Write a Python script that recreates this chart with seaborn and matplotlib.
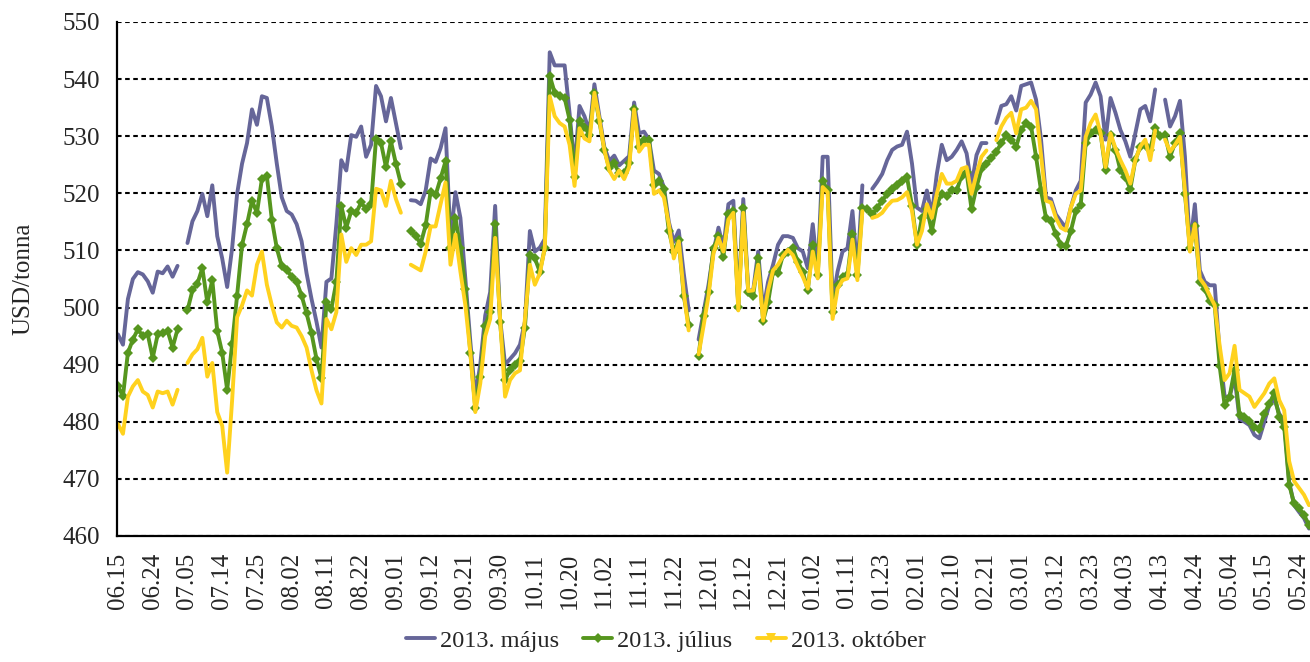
import numpy as np
import pandas as pd
import matplotlib.pyplot as plt
from matplotlib.lines import Line2D
import seaborn as sns

nan = np.nan

# tengely feliratok (minden 7. kereskedési nap)
tick_labels = ['06.15', '06.24', '07.05', '07.14', '07.25', '08.02', '08.11', '08.22', '09.01',
               '09.12', '09.21', '09.30', '10.11', '10.20', '11.02', '11.11', '11.22', '12.01',
               '12.12', '12.21', '01.02', '01.11', '01.23', '02.01', '02.10', '02.21', '03.01',
               '03.12', '03.23', '04.03', '04.13', '04.24', '05.04', '05.15', '05.24']

majus = [
    495.3, 493.5, 501.5, 505.0, 506.2, 505.8, 504.6, 502.6, 506.3, 506.0,
    507.2, 505.4, 507.3, nan, 511.3, 515.1, 516.9, 519.9, 516.0, 521.4,
    512.5, 508.6, 503.6, 510.4, 519.9, 525.2, 528.8, 534.7, 532.0, 537.0,
    536.7, 531.7, 525.2, 519.3, 516.9, 516.3, 514.6, 511.6, 506.0, 501.5,
    497.5, 493.0, 504.5, 505.1, 514.6, 525.8, 524.0, 530.2, 529.9, 531.7,
    526.4, 528.5, 538.8, 537.0, 532.6, 536.7, 532.3, 527.9, nan, 518.8,
    518.7, 518.1, 520.5, 526.1, 525.5, 527.9, 531.4, 512.0, 520.2, 515.7,
    505.0, 494.0, 484.5, 490.0, 498.6, 502.7, 517.8, 498.0, 490.0, 491.0,
    492.0, 493.5, 497.5, 513.4, 509.8, 510.5, 512.0, 544.7, 542.4, 542.4,
    542.4, 534.0, 524.5, 535.3, 533.5, 530.8, 539.1, 533.5, 528.1, 525.7,
    526.6, 524.9, 525.7, 526.5, 535.9, 530.5, 530.8, 529.4, 524.0, 523.4,
    521.1, 515.0, 511.5, 513.5, 506.0, 499.5, nan, 494.4, 499.2, 504.0,
    509.8, 514.0, 510.5, 518.1, 518.7, 500.4, 519.0, 503.0, 503.0, 509.8,
    499.5, 504.5, 507.5, 511.0, 512.5, 512.5, 512.2, 510.4, 509.8, 506.9,
    514.6, 506.3, 526.4, 526.4, 501.0, 506.3, 509.8, 510.4, 516.9, 506.3,
    521.4, nan, 520.8, 522.0, 523.4, 525.8, 527.6, 528.2, 528.5, 530.8,
    525.2, 517.5, 516.9, 520.5, 516.3, 523.4, 528.5, 525.8, 526.4, 527.6,
    529.1, 527.0, 521.4, 526.7, 528.8, 528.8, nan, 532.3, 535.3, 535.6,
    537.0, 534.5, 538.8, 539.1, 539.4, 536.4, 529.4, 519.3, 519.0, 516.3,
    515.1, 514.0, 517.5, 520.5, 522.2, 535.9, 537.3, 539.4, 537.0, 529.4,
    536.7, 534.1, 531.1, 529.1, 526.4, 530.5, 534.7, 535.3, 532.6, 538.2,
    nan, 536.4, 531.7, 533.5, 536.2, 526.4, 510.5, 518.1, 506.5, 504.5,
    503.9, 503.9, 492.1, 484.4, 484.4, 487.8, 480.5, 480.0, 479.4, 477.7,
    477.1, 480.0, 482.9, 484.0, 481.4, 480.2, 469.5, 465.4, 464.2, 463.1,
    461.3]

julius = [
    486.2, 484.5, 492.1, 494.4, 496.2, 495.0, 495.3, 491.2, 495.3, 495.6,
    495.9, 493.0, 496.2, nan, 499.5, 503.0, 504.2, 506.9, 500.9, 504.8,
    495.9, 492.1, 485.6, 493.6, 502.1, 511.0, 514.6, 518.7, 516.6, 522.5,
    523.0, 515.4, 510.4, 507.2, 506.6, 505.4, 504.5, 502.1, 499.0, 495.5,
    491.0, 487.6, 500.9, 499.8, 504.5, 517.8, 514.0, 516.9, 516.6, 518.4,
    517.2, 518.1, 529.6, 528.8, 524.6, 529.1, 525.2, 521.7, nan, 513.4,
    512.5, 511.2, 514.4, 520.3, 519.7, 522.6, 525.6, 510.4, 515.7, 510.4,
    503.3, 492.1, 482.5, 487.9, 496.8, 499.2, 514.6, 497.4, 487.3, 489.1,
    490.0, 490.6, 496.5, 509.2, 508.6, 506.3, 510.4, 540.6, 537.6, 537.0,
    536.7, 532.9, 522.8, 532.6, 531.7, 530.2, 537.6, 532.6, 527.6, 524.4,
    525.3, 523.5, 523.5, 525.3, 534.7, 528.2, 529.4, 529.4, 521.4, 522.2,
    520.8, 513.4, 509.8, 511.8, 502.1, 497.0, nan, 491.6, 498.6, 502.7,
    510.4, 512.5, 508.9, 516.3, 516.9, 500.1, 517.5, 502.7, 502.1, 508.6,
    497.7, 500.9, 506.3, 506.0, 509.2, 509.8, 510.4, 508.0, 506.3, 503.0,
    511.0, 505.7, 522.2, 520.5, 499.2, 503.9, 505.4, 505.7, 512.8, 505.7,
    517.5, 517.2, 516.3, 517.5, 518.7, 519.9, 520.8, 521.4, 522.2, 522.8,
    517.8, 511.0, 515.7, 517.2, 513.4, 518.1, 519.9, 519.6, 520.5, 520.5,
    523.1, 523.7, 517.2, 521.1, 524.3, 525.2, 526.1, 527.3, 528.8, 530.2,
    529.4, 528.2, 531.1, 532.3, 531.7, 526.4, 520.5, 515.7, 515.1, 512.8,
    511.0, 510.7, 513.4, 516.9, 518.0, 528.8, 530.5, 531.1, 530.5, 524.0,
    530.2, 527.6, 524.0, 522.8, 520.8, 525.8, 528.2, 528.5, 527.6, 531.4,
    530.0, 530.2, 526.4, 528.8, 530.5, 519.9, 510.4, 514.3, 504.5, 503.3,
    501.2, 500.4, 489.7, 482.9, 484.4, 489.1, 481.1, 480.8, 480.2, 479.1,
    478.8, 481.4, 483.2, 485.0, 480.8, 479.1, 469.0, 465.7, 464.9, 463.7,
    461.9]

oktober = [
    479.6, 477.9, 484.4, 486.2, 487.3, 485.3, 484.7, 482.5, 485.3, 485.0,
    485.3, 483.0, 485.6, nan, 490.3, 491.8, 492.7, 494.7, 487.9, 490.3,
    481.7, 479.3, 471.1, 483.8, 498.3, 500.4, 503.0, 502.1, 507.5, 509.8,
    504.0, 500.4, 497.4, 496.5, 497.7, 496.8, 496.5, 495.0, 493.0, 489.0,
    485.5, 483.2, 498.0, 496.2, 499.2, 512.8, 508.0, 510.4, 509.2, 511.0,
    511.0, 511.6, 520.8, 520.5, 517.8, 522.2, 519.0, 516.6, nan, 507.5,
    507.0, 506.5, 509.8, 514.2, 514.2, 518.1, 521.9, 507.5, 512.8, 506.3,
    500.4, 492.1, 481.7, 486.7, 495.0, 498.0, 512.2, 498.0, 484.4, 487.3,
    488.5, 489.0, 498.0, 507.5, 504.0, 506.0, 510.4, 537.0, 533.5, 532.3,
    531.7, 528.5, 521.3, 531.4, 529.6, 529.1, 537.6, 532.9, 527.6, 524.0,
    522.5, 524.0, 522.5, 524.6, 534.7, 527.3, 528.5, 528.5, 519.9, 520.5,
    519.3, 514.6, 508.6, 511.6, 502.7, 496.0, nan, 491.8, 496.8, 502.1,
    509.5, 512.2, 509.8, 515.4, 516.6, 499.5, 516.6, 502.9, 503.0, 507.5,
    497.7, 503.0, 506.5, 507.5, 509.0, 510.1, 509.2, 507.2, 505.4, 503.3,
    509.8, 505.1, 521.1, 520.2, 498.0, 503.3, 504.8, 505.1, 511.9, 504.8,
    516.9, nan, 515.7, 516.0, 516.6, 517.8, 518.7, 518.8, 519.3, 520.2,
    516.9, 511.0, 513.4, 518.1, 515.7, 519.9, 523.4, 521.7, 521.7, 522.2,
    524.3, 524.6, 519.9, 523.4, 526.4, 527.5, nan, 529.3, 531.7, 533.2,
    534.1, 530.5, 534.7, 535.0, 536.2, 534.7, 526.7, 518.7, 518.4, 515.7,
    514.0, 513.5, 517.5, 519.9, 520.5, 529.9, 532.3, 533.8, 530.5, 524.6,
    530.5, 527.9, 525.8, 524.0, 521.7, 525.8, 528.2, 529.4, 525.8, 531.0,
    nan, 529.4, 527.3, 528.5, 529.9, 520.5, 509.8, 514.6, 505.1, 503.9,
    502.1, 500.4, 493.3, 487.3, 488.5, 493.3, 485.6, 485.0, 484.4, 482.6,
    483.8, 485.0, 486.7, 487.6, 483.8, 482.0, 473.1, 469.6, 468.4, 467.2,
    465.4]

series_names = ['2013. május', '2013. július', '2013. október']
colors = ['#666699', '#56961E', '#FFD21E']

# hosszú formátum, a hiányzó napoknál új szakasz kezdődik
frames = []
for name, vals in zip(series_names, [majus, julius, oktober]):
    s = pd.Series(vals, dtype=float)
    d = pd.DataFrame({'nap': np.arange(len(s)), 'ar': s,
                      'szakasz': s.isna().cumsum(), 'sorozat': name})
    frames.append(d.dropna(subset=['ar']))
df = pd.concat(frames, ignore_index=True)

sns.set_style('white')
plt.rcParams['font.family'] = ['Liberation Serif', 'DejaVu Serif']

fig = plt.figure(figsize=(13.1, 6.62), dpi=100)
ax = fig.add_axes([117 / 1310, 1 - 536 / 662, 1 - 117 / 1310, (536 - 22) / 662])

for name, color in zip(series_names, colors):
    d = df[df['sorozat'] == name]
    extra = dict(marker='D', markersize=4.6, markeredgewidth=0) if name == '2013. július' else {}
    sns.lineplot(data=d, x='nap', y='ar', units='szakasz', estimator=None,
                 color=color, linewidth=2.8, legend=False, ax=ax, **extra)

n = len(majus)
ax.set_xlim(-0.2, n - 0.8)
ax.set_ylim(460, 550)
ax.set_yticks(range(460, 551, 10))
ax.set_xticks(range(0, n, 7))
ax.set_xticklabels(tick_labels, rotation=90)
ax.set_xticks(range(n), minor=True)

ax.yaxis.grid(True, color='black', linestyle=(0, (2.2, 1.7)), linewidth=1.5)
ax.set_axisbelow(True)
for side in ['top', 'right']:
    ax.spines[side].set_visible(False)
for side in ['left', 'bottom']:
    ax.spines[side].set_color('black')
    ax.spines[side].set_linewidth(1.6)

ax.tick_params(axis='x', which='both', direction='out', length=8, width=1.1,
               color='black', labelsize=18, pad=4)
ax.tick_params(axis='y', direction='out', length=7.5, width=1.6,
               color='black', labelsize=18, pad=5)
ax.set_xlabel('')
ax.set_ylabel('USD/tonna', fontsize=18, labelpad=20)

handles = [
    Line2D([], [], color=colors[0], linewidth=2.8),
    Line2D([], [], color=colors[1], linewidth=2.8, marker='D', markersize=5, markeredgewidth=0),
    Line2D([], [], color=colors[2], linewidth=2.8, marker='v', markersize=7, markeredgewidth=0),
]
fig.legend(handles, series_names, loc='center', bbox_to_anchor=(0.508, 0.032), ncol=3,
           frameon=False, fontsize=17.5, handlelength=1.2, handletextpad=0.2,
           columnspacing=1.0)

fig.savefig('out.png', dpi=100)
